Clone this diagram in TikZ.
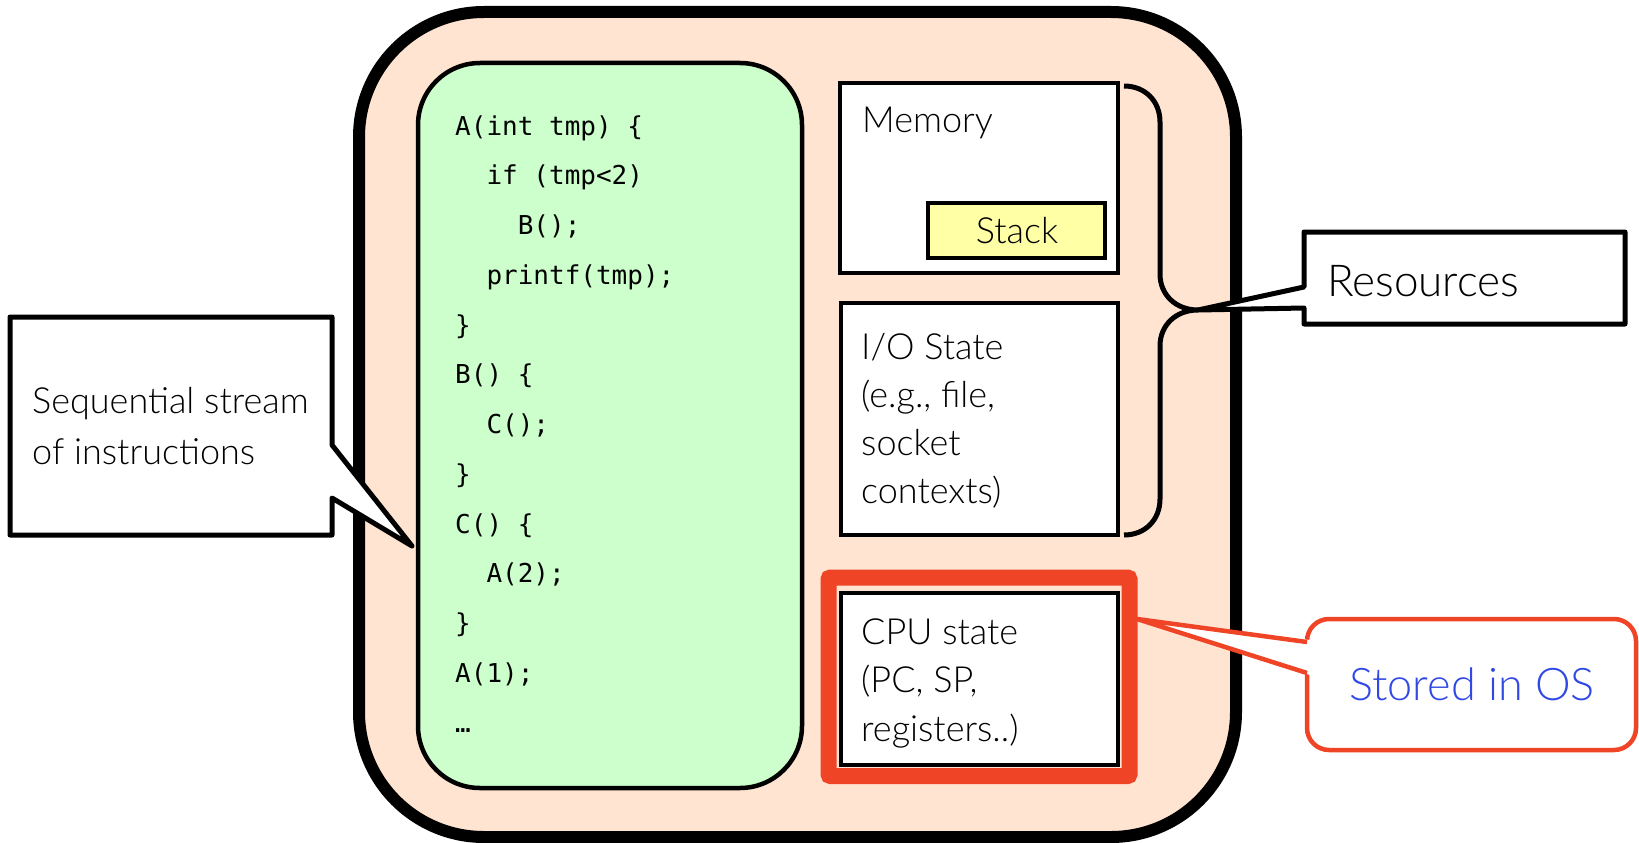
\documentclass[tikz,border=0pt]{standalone}
\usepackage{fontspec}
\IfFontExistsTF{Lato Light}{\setmainfont{Lato Light}}{\setmainfont{Lato}}
\newfontfamily\codefont{DejaVu Sans Mono}
\definecolor{peach}{RGB}{255,228,210}
\definecolor{mint}{RGB}{204,255,204}
\definecolor{lemon}{RGB}{255,255,166}
\definecolor{alert}{RGB}{240,68,38}
\definecolor{note}{RGB}{48,72,228}
\begin{document}
\begin{tikzpicture}[x=1pt,y=-1pt,
  lbl/.style={font=\fontsize{36}{48}\selectfont, inner sep=0pt, anchor=base west},
  big/.style={font=\fontsize{44}{52}\selectfont, inner sep=0pt},
  codeline/.style={font=\codefont\fontsize{26}{30}\selectfont, inner sep=0pt, anchor=base west},
  panel/.style={draw=black, line width=4.5pt, fill=white},
  callout/.style={draw=black, line width=5pt, fill=white, line join=round}]
\useasboundingbox (0,0) rectangle (1639,843);

% process container and code area
\draw[line width=12pt, fill=peach, rounded corners=125pt] (359,12) rectangle (1236,837);
\draw[line width=4.5pt, fill=mint, rounded corners=62pt] (418,63) rectangle (802,788);

% resource panels
\draw[panel] (840,83) rectangle (1118,273);
\draw[draw=black, line width=4pt, fill=lemon] (928,203) rectangle (1105,258);
\draw[panel] (841,303) rectangle (1118,535);
\draw[alert, line width=16pt, rounded corners=2pt] (828.5,577.5) rectangle (1129.5,776);
\draw[panel] (841,593) rectangle (1118,765);

% brace grouping memory and I/O state
\coordinate (btop) at (1124,86);
\coordinate (btip) at (1198,310);
\coordinate (bbot) at (1124,535);
\draw[line width=5pt] (btop) .. controls (1145,86) and (1160,101) .. (1160,122)
  -- (1160,274) .. controls (1160,295) and (1176,310) .. (btip)
  .. controls (1176,310) and (1160,325) .. (1160,346)
  -- (1160,499) .. controls (1160,520) and (1145,535) .. (bbot);

% callout: instruction stream
\coordinate (seqtip) at (412,546);
\draw[callout] (10,317) -- (332,317) -- (332,445) -- (seqtip) -- (332,498)
  -- (332,535) -- (10,535) -- cycle;

% callout: resources
\draw[callout] (1304,232) -- (1625,232) -- (1625,324) -- (1304,324) -- (1304,308)
  -- (btip) -- (1304,287) -- cycle;

% callout: stored in OS
\coordinate (ostip) at (1137,619);
\draw[alert, line width=4.5pt, fill=white, rounded corners=22pt] (1307,619) rectangle (1636,750);
\fill[white] (ostip) -- (1310,640) -- (1310,675) -- cycle;
\draw[alert, line width=4.5pt, line join=round] (1307,642) -- (ostip) -- (1307,673);

% code listing
\foreach \ind/\txt [count=\i] in {0/{A(int tmp) \{}, 2/{if (tmp<2)}, 4/{B();},
    2/{printf(tmp);}, 0/{\}}, 0/{B() \{}, 2/{C();}, 0/{\}}, 0/{C() \{},
    2/{A(2);}, 0/{\}}, 0/{A(1);}, 0/{…}}
  \node[codeline] (code\i) at ({455+15.65*\ind},{135+49.75*(\i-1)}) {\txt};

% labels
\node[lbl] (memory) at (862,132) {Memory};
\node[lbl, anchor=base] (stack) at (1017,243) {Stack};
\foreach \t [count=\i] in {I/O State, {(e.g., file,}, socket, contexts)}
  \node[lbl] (io\i) at (861,{359+48*(\i-1)}) {\t};
\foreach \t [count=\i] in {CPU state, {(PC, SP,}, registers..)}
  \node[lbl] (cpu\i) at (861,{644+48.5*(\i-1)}) {\t};
\foreach \t [count=\i] in {Sequential stream, of instructions}
  \node[lbl] (seq\i) at (32,{413+51*(\i-1)}) {\t};
\node[big, anchor=base west] (resources) at (1327,296) {Resources};
\node[big, anchor=base, text=note, font=\fontsize{45}{52}\selectfont] (stored) at (1472,700) {Stored in OS};
\end{tikzpicture}
\end{document}
